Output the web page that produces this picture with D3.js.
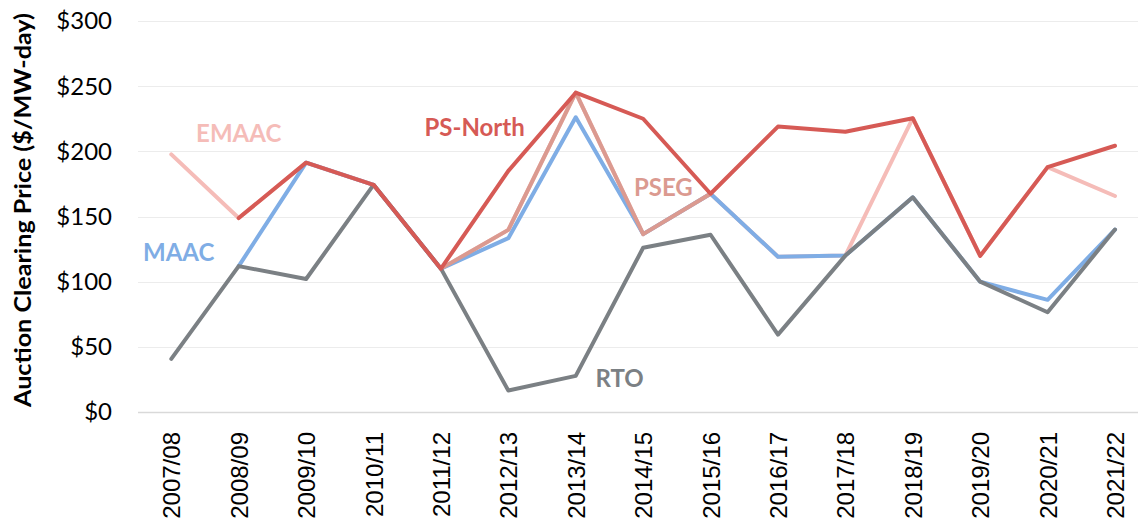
<!DOCTYPE html>
<html>
<head>
<meta charset="utf-8">
<script src="https://cdn.jsdelivr.net/npm/d3@7/dist/d3.min.js"></script>
<style>
  html, body { margin: 0; padding: 0; background: #ffffff; }
  svg { display: block; }
</style>
</head>
<body>
<div id="chart"></div>
<script>
const W = 1138, H = 525;

// auction years
const years = ["2007/08", "2008/09", "2009/10", "2010/11", "2011/12", "2012/13", "2013/14",
               "2014/15", "2015/16", "2016/17", "2017/18", "2018/19", "2019/20", "2020/21", "2021/22"];

// clearing prices, $/MW-day (null = not drawn)
const emaac   = [197.67, 148.80, 191.32, 174.29, 110.00, 139.73, 245.00, 136.50, 167.46, 119.13, 120.00, 225.42, 119.77, 187.87, 165.73];
const maac    = [null, 111.92, 191.32, 174.29, 110.00, 133.37, 226.15, 136.50, 167.46, 119.13, 120.00, 164.77, 100.00, 86.04, 140.00];
const pseg    = [null, null, null, null, 110.00, 139.73, 245.00, 136.50, 167.46, null, null, null, null, null, null];
const rto     = [40.80, 111.92, 102.04, 174.29, 110.00, 16.46, 27.73, 125.99, 136.00, 59.37, 120.00, 164.77, 100.00, 76.53, 140.00];
const psNorth = [null, 148.80, 191.32, 174.29, 110.00, 185.00, 245.00, 225.00, 167.46, 219.00, 215.00, 225.42, 119.77, 187.87, 204.29];

const yTicks = [0, 50, 100, 150, 200, 250, 300];

// drawing order: bottom first
const series = [
  { name: "EMAAC",    values: emaac,   color: "#f5bcb8" },
  { name: "MAAC",     values: maac,    color: "#7fade5" },
  { name: "PSEG",     values: pseg,    color: "#db9a90" },
  { name: "RTO",      values: rto,     color: "#7b8084" },
  { name: "PS-North", values: psNorth, color: "#d65a55" }
];

// label anchors: position in year-index units and price units
const labels = [
  { name: "EMAAC",    at: 1.0,  value: 207, color: "#f5bcb8" },
  { name: "PS-North", at: 4.5,  value: 212, color: "#d65a55" },
  { name: "MAAC",     at: 0.11, value: 116, color: "#7fade5" },
  { name: "PSEG",     at: 7.3,  value: 166, color: "#db9a90" },
  { name: "RTO",      at: 6.65, value: 19,  color: "#7b8084" }
];

const svg = d3.select("#chart").append("svg")
    .attr("width", W)
    .attr("height", H);

const x = d3.scalePoint(years, [171.3, 1115]);
const y = d3.scaleLinear([0, 300], [412, 21]);
const xAt = function(i) { return x(years[0]) + i * x.step(); };

// gridlines
svg.append("g")
    .selectAll("line")
    .data(yTicks)
    .join("line")
    .attr("x1", 138)
    .attr("x2", W)
    .attr("y1", function(d) { return Math.round(y(d)) + 0.5; })
    .attr("y2", function(d) { return Math.round(y(d)) + 0.5; })
    .attr("stroke", function(d) { return d === 0 ? "#d9d9d9" : "#ececec"; })
    .attr("stroke-width", function(d) { return d === 0 ? 1.5 : 1; });

// y tick labels
svg.append("g")
    .attr("font-family", "Lato, 'Open Sans', sans-serif")
    .attr("font-size", 24)
    .attr("text-anchor", "end")
    .attr("fill", "#000")
    .selectAll("text")
    .data(yTicks)
    .join("text")
    .attr("x", 112)
    .attr("y", function(d) { return y(d); })
    .attr("dy", "0.35em")
    .text(function(d) { return "$" + d; });

// y title
svg.append("text")
    .attr("transform", "translate(31," + 210 + ") rotate(-90)")
    .attr("text-anchor", "middle")
    .attr("font-family", "Lato, 'Open Sans', sans-serif")
    .attr("font-weight", "bold")
    .attr("font-size", 23)
    .attr("textLength", 394)
    .attr("lengthAdjust", "spacingAndGlyphs")
    .attr("fill", "#000")
    .text("Auction Clearing Price ($/MW-day)");

// x tick labels
svg.append("g")
    .attr("font-family", "'Liberation Sans', Arial, sans-serif")
    .attr("font-size", 24)
    .attr("text-anchor", "end")
    .attr("fill", "#000")
    .selectAll("text")
    .data(years)
    .join("text")
    .attr("transform", function(d) { return "translate(" + (x(d) + 9) + ",432) rotate(-90)"; })
    .text(function(d) { return d; });

// lines
const line = d3.line()
    .defined(function(d) { return d != null; })
    .x(function(d, i) { return x(years[i]); })
    .y(function(d) { return y(d); });

svg.append("g")
    .selectAll("path")
    .data(series)
    .join("path")
    .attr("d", function(d) { return line(d.values); })
    .attr("fill", "none")
    .attr("stroke", function(d) { return d.color; })
    .attr("stroke-width", 4)
    .attr("stroke-linejoin", "round")
    .attr("stroke-linecap", "round");

// series labels
svg.append("g")
    .attr("font-family", "Lato, 'Open Sans', sans-serif")
    .attr("font-weight", "bold")
    .attr("font-size", 24)
    .attr("text-anchor", "middle")
    .selectAll("text")
    .data(labels)
    .join("text")
    .attr("x", function(d) { return xAt(d.at); })
    .attr("y", function(d) { return y(d.value); })
    .attr("fill", function(d) { return d.color; })
    .text(function(d) { return d.name; });
</script>
</body>
</html>
